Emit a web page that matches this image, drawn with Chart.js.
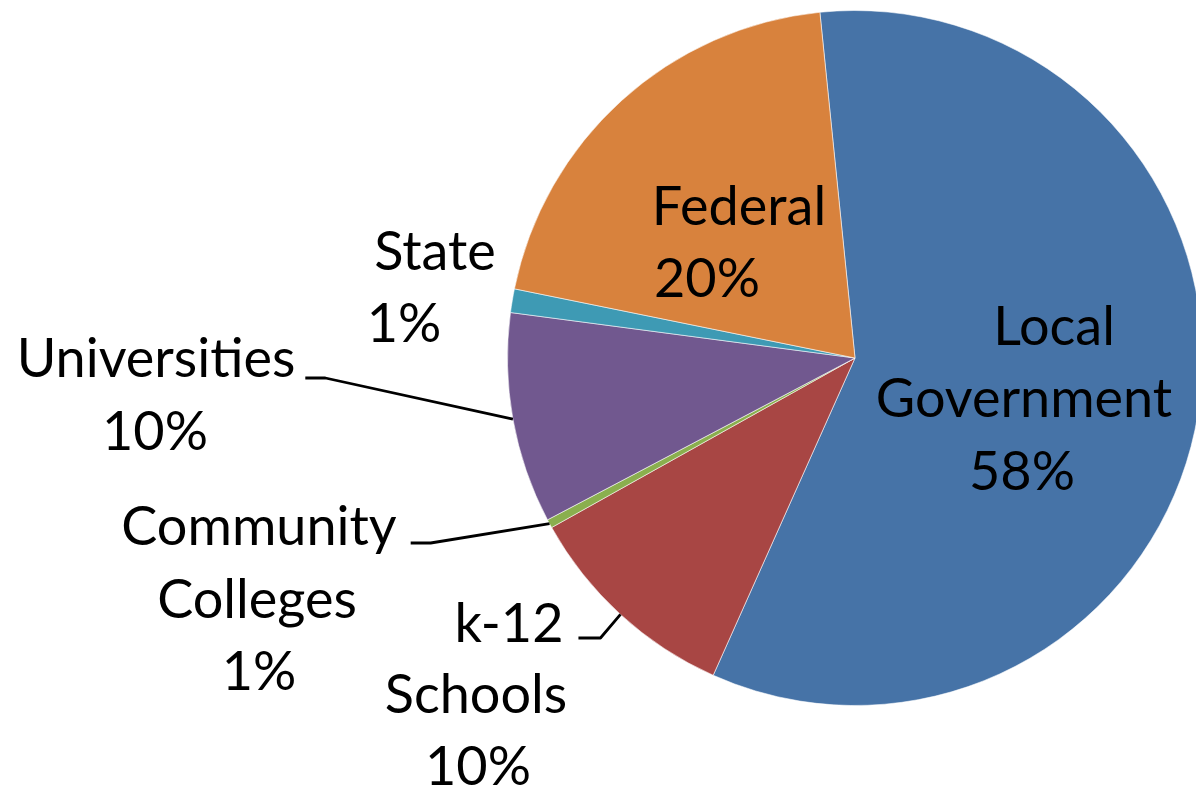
<!DOCTYPE html>
<html><head><meta charset="utf-8">
<script src="https://cdn.jsdelivr.net/npm/chart.js@4/dist/chart.umd.min.js"></script>
<style>
html,body{margin:0;padding:0;background:#fff;overflow:hidden;width:1196px;height:793px}
#wrap{position:absolute;left:0;top:0;width:1210px;height:793px}
</style></head><body>
<div id="wrap"><canvas id="c" width="1210" height="793"></canvas></div>
<script>
const categories = ['Local Government', 'k-12 Schools', 'Community Colleges', 'Universities', 'State', 'Federal'];
const shares = [58.3, 10.2, 0.4, 9.8, 1.1, 20.2];
const percentLabels = ['58%', '10%', '1%', '10%', '1%', '20%'];
const sliceColors = ['#4673a7', '#a84644', '#8aaf4e', '#71588f', '#3e9ab4', '#d8823d'];

// label placement relative to pie centre (style/layout only)
const labelLayout = [
  { dx: [199, 169, 167], dy: [-13, 59, 132] },
  { dx: [-346, -379, -377], dy: [284, 355, 427], leader: { gap: 15, run: 22, dy: 280 } },
  { dx: [-596, -598, -596], dy: [187, 260, 332], leader: { gap: 14, run: 20, dy: 185 } },
  { dx: [-699, -700], dy: [19, 92], leader: { gap: 10, run: 20, dy: 20 } },
  { dx: [-420, -451], dy: [-88, -16] },
  { dx: [-116, -148], dy: [-133, -61] }
];

const labelPlugin = {
  id: 'sliceLabels',
  afterDatasetsDraw(chart, args, opts) {
    const ctx = chart.ctx;
    const meta = chart.getDatasetMeta(0);
    meta.data.forEach((arc, i) => {
      const lay = opts.layout[i];
      const p = arc.getProps(['x', 'y', 'startAngle', 'endAngle', 'outerRadius'], true);
      const cx = p.x, cy = p.y;
      const lines = categories[i].split(' ').concat(percentLabels[i]);
      ctx.save();
      ctx.font = opts.font;
      ctx.fillStyle = '#000';
      ctx.textAlign = 'center';
      ctx.textBaseline = 'alphabetic';
      lines.forEach((t, k) => ctx.fillText(t, cx + lay.dx[k], cy + lay.dy[k]));
      if (lay.leader) {
        const mid = (p.startAngle + p.endAngle) / 2;
        const ax = cx + Math.cos(mid) * p.outerRadius;
        const ay = cy + Math.sin(mid) * p.outerRadius;
        const w = ctx.measureText(lines[0]).width;
        const x0 = cx + lay.dx[0] + w / 2 + lay.leader.gap;
        const y0 = cy + lay.leader.dy;
        ctx.beginPath();
        ctx.moveTo(x0, y0);
        ctx.lineTo(x0 + lay.leader.run, y0);
        ctx.lineTo(ax, ay);
        ctx.lineWidth = 2.8;
        ctx.strokeStyle = '#000';
        ctx.lineJoin = 'round';
        ctx.stroke();
      }
      ctx.restore();
    });
  }
};

new Chart(document.getElementById('c'), {
  type: 'pie',
  data: {
    labels: categories,
    datasets: [{
      data: shares,
      backgroundColor: sliceColors,
      borderColor: 'rgba(255,255,255,0.55)',
      borderWidth: 1
    }]
  },
  options: {
    responsive: false,
    animation: false,
    events: [],
    rotation: -5.8,
    layout: { padding: { left: 507, top: 10, right: 7, bottom: 87 } },
    plugins: {
      legend: { display: false },
      tooltip: { enabled: false },
      sliceLabels: { layout: labelLayout, font: '54px Lato' }
    }
  },
  plugins: [labelPlugin]
});
</script>
</body></html>
